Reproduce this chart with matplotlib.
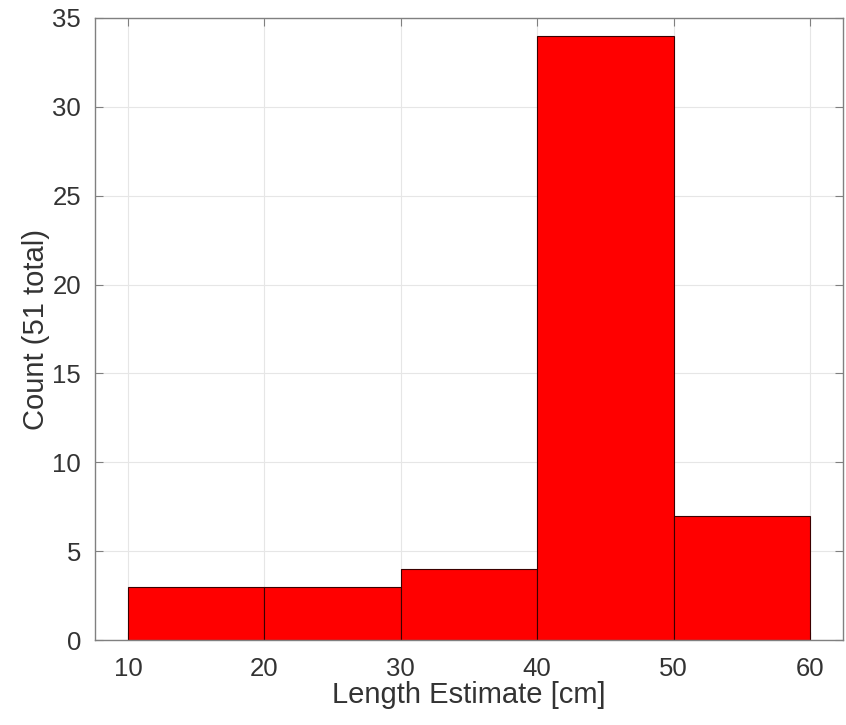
import numpy as np
import matplotlib
matplotlib.use("Agg")
import matplotlib.pyplot as plt

plt.rcParams['font.family'] = ['Liberation Sans', 'DejaVu Sans']

bin_edges = [10, 20, 30, 40, 50, 60]
counts = [3, 3, 4, 34, 7]
x_ticks = [10, 20, 30, 40, 50, 60]
y_ticks = [0, 5, 10, 15, 20, 25, 30, 35]

fig = plt.figure(figsize=(8.46, 7.25), dpi=100)
ax = fig.add_axes([0.1123, 0.1172, 0.8842, 0.858])

widths = np.diff(bin_edges)
ax.bar(bin_edges[:-1], counts, width=widths, align='edge',
       color='#ff0000', edgecolor='#3a0000', linewidth=0.8, zorder=2)

ax.set_xlim(7.58, 62.42)
ax.set_ylim(0, 35)
ax.set_xticks(x_ticks)
ax.set_yticks(y_ticks)
ax.grid(True, color='#e6e6e6', linewidth=0.8, zorder=0)
ax.set_axisbelow(True)

axis_grey = '#808080'
for side in ['left', 'right', 'top', 'bottom']:
    ax.spines[side].set_color(axis_grey)
    ax.spines[side].set_linewidth(1.0)
ax.tick_params(direction='in', top=True, right=True, length=6,
               color=axis_grey, labelsize=18.5, labelcolor='#333333')
ax.tick_params(axis='x', pad=12)
ax.tick_params(axis='y', pad=10)

ax.set_xlabel('Length Estimate [cm]', fontsize=21, color='#333333', labelpad=0)
ax.set_ylabel('Count (51 total)', fontsize=21, color='#333333', labelpad=2)

fig.savefig('out.png', dpi=100)
